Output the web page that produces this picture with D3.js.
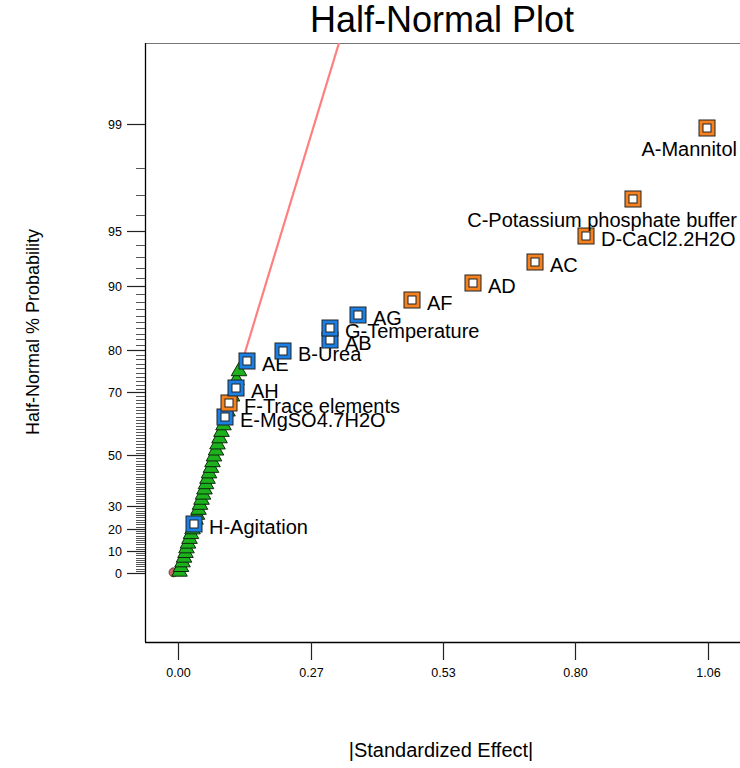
<!DOCTYPE html>
<html>
<head>
<meta charset="utf-8">
<script src="https://cdn.jsdelivr.net/npm/d3@7"></script>
<style>
  body { margin: 0; background: #fff; }
  text { font-family: Arial, "Liberation Sans", sans-serif; }
</style>
</head>
<body>
<div id="chart"></div>
<script>
// effects picked out on the plot (orange = positive, blue = negative)
const effectNames = ["A-Mannitol", "C-Potassium phosphate buffer", "D-CaCl2.2H2O", "AC", "AD", "AF",
  "AG", "G-Temperature", "AB", "B-Urea", "AE", "AH", "F-Trace elements", "E-MgSO4.7H2O", "H-Agitation"];
const effectValues = [1.058, 0.910, 0.816, 0.714, 0.590, 0.468, 0.360, 0.304, 0.304, 0.210, 0.138, 0.116, 0.102, 0.094, 0.032];
const effectPercents = [98.94, 96.81, 94.68, 92.55, 90.43, 88.30, 86.17, 84.04, 81.91, 79.79, 77.66, 71.28, 67.02, 62.77, 22.34];
const effectSigns = ["+", "+", "+", "+", "+", "+", "-", "-", "-", "-", "-", "-", "+", "-", "-"];
const labelsBelow = ["A-Mannitol", "C-Potassium phosphate buffer"];

// error estimates (green triangles)
const errorPercents = [1.06, 3.19, 5.32, 7.45, 9.57, 11.70, 13.83, 15.96, 18.09, 20.21, 24.47, 26.60, 28.72, 30.85,
  32.98, 35.11, 37.23, 39.36, 41.49, 43.62, 45.74, 47.87, 50.00, 52.13, 54.26, 56.38, 58.51, 60.64, 64.89, 69.15, 73.40, 75.53];
const errorValues = [0.003, 0.006, 0.009, 0.012, 0.015, 0.017, 0.020, 0.023, 0.026, 0.029, 0.035, 0.038, 0.041, 0.044,
  0.047, 0.050, 0.053, 0.056, 0.059, 0.062, 0.066, 0.069, 0.072, 0.076, 0.079, 0.083, 0.087, 0.091, 0.099, 0.108, 0.117, 0.122];

const originValues = [-0.009];
const originPercents = [0.3];

// reference line, in effect and normal score
const lineEffect = [0, 0.36];
const lineScore = [0, 3.40];

const xTickValues = [0, 0.265, 0.53, 0.795, 1.06];
const xTickLabels = ["0.00", "0.27", "0.53", "0.80", "1.06"];
const yTickPercents = [0, 10, 20, 30, 50, 70, 80, 90, 95, 99];

const W = 740, H = 768;
const plot = { left: 145, top: 43, right: 740, bottom: 642 };
const colors = { pos: "#F5821F", neg: "#1B7FE3", err: "#1DB11D", origin: "#C46A6A", line: "#FF7F7F", edge: "#222" };

// inverse normal cdf (Acklam)
function probit(p) {
  const a = [-39.6968302866538, 220.946098424521, -275.928510446969, 138.357751867269, -30.6647980661472, 2.50662827745924];
  const b = [-54.4760987982241, 161.585836858041, -155.698979859887, 66.8013118877197, -13.2806815528857];
  const c = [-0.00778489400243029, -0.322396458041136, -2.40075827716184, -2.54973253934373, 4.37466414146497, 2.93816398269878];
  const d = [0.00778469570904146, 0.32246712907004, 2.445134137143, 3.75440866190742];
  const lo = 0.02425;
  let q, r;
  if (p < lo) {
    q = Math.sqrt(-2 * Math.log(p));
    return (((((c[0]*q+c[1])*q+c[2])*q+c[3])*q+c[4])*q+c[5]) / ((((d[0]*q+d[1])*q+d[2])*q+d[3])*q+1);
  }
  if (p > 1 - lo) {
    q = Math.sqrt(-2 * Math.log(1 - p));
    return -(((((c[0]*q+c[1])*q+c[2])*q+c[3])*q+c[4])*q+c[5]) / ((((d[0]*q+d[1])*q+d[2])*q+d[3])*q+1);
  }
  q = p - 0.5; r = q * q;
  return (((((a[0]*r+a[1])*r+a[2])*r+a[3])*r+a[4])*r+a[5])*q / (((((b[0]*r+b[1])*r+b[2])*r+b[3])*r+b[4])*r+1);
}
// half-normal score of a percent
const halfScore = pct => pct <= 0 ? 0 : probit(0.5 + pct / 200);

const x = d3.scaleLinear().domain([-0.066, 1.122]).range([plot.left, plot.right - 1]);
const y = d3.scaleLinear().domain([-0.396, 3.041]).range([plot.bottom, plot.top]);
const yp = pct => y(halfScore(pct));

const svg = d3.select("#chart").append("svg").attr("width", W).attr("height", H);

svg.append("defs").append("clipPath").attr("id", "clip")
  .append("rect").attr("x", plot.left).attr("y", plot.top)
  .attr("width", plot.right - plot.left).attr("height", plot.bottom - plot.top);

// title
svg.append("text").attr("x", 442).attr("y", 32).attr("text-anchor", "middle")
  .attr("font-size", 36).text("Half-Normal Plot");

// frame
svg.append("line").attr("x1", plot.left).attr("x2", plot.right).attr("y1", plot.top + 0.5).attr("y2", plot.top + 0.5)
  .attr("stroke", "#777").attr("stroke-width", 1.2);
svg.append("line").attr("x1", plot.left + 0.5).attr("x2", plot.left + 0.5).attr("y1", plot.top).attr("y2", plot.bottom)
  .attr("stroke", "#000").attr("stroke-width", 1.3);
svg.append("line").attr("x1", plot.left).attr("x2", plot.right).attr("y1", plot.bottom + 0.5).attr("y2", plot.bottom + 0.5)
  .attr("stroke", "#000").attr("stroke-width", 1.3);

// y minor ticks every percent
const minor = d3.range(1, 99).filter(p => !yTickPercents.includes(p));
svg.append("g").selectAll("line").data(minor).enter().append("line")
  .attr("x1", 136).attr("x2", plot.left)
  .attr("y1", d => Math.round(yp(d)) + 0.5).attr("y2", d => Math.round(yp(d)) + 0.5)
  .attr("stroke", "#555").attr("stroke-width", 1);

const yTicks = svg.append("g").selectAll("g").data(yTickPercents).enter().append("g")
  .attr("transform", d => "translate(0," + (Math.round(yp(d)) + 0.5) + ")");
yTicks.append("line").attr("x1", 127).attr("x2", plot.left).attr("stroke", "#222").attr("stroke-width", 1.2);
yTicks.append("text").attr("x", 122).attr("dy", "0.36em").attr("text-anchor", "end")
  .attr("font-size", 12.5).text(d => d);

// x ticks
const xTicks = svg.append("g").selectAll("g").data(xTickValues).enter().append("g")
  .attr("transform", d => "translate(" + (Math.round(x(d)) + 0.5) + ",0)");
xTicks.append("line").attr("y1", plot.bottom).attr("y2", 660).attr("stroke", "#222").attr("stroke-width", 1.2);
xTicks.append("text").attr("y", 677).attr("text-anchor", "middle").attr("font-size", 12.5)
  .text((d, i) => xTickLabels[i]);

// axis titles
svg.append("text").attr("transform", "translate(39,332) rotate(-90)").attr("text-anchor", "middle")
  .attr("font-size", 18).text("Half-Normal % Probability");
svg.append("text").attr("x", 441).attr("y", 757).attr("text-anchor", "middle")
  .attr("font-size", 20).text("|Standardized Effect|");

const body = svg.append("g").attr("clip-path", "url(#clip)");

// reference line
body.append("line")
  .attr("x1", x(lineEffect[0])).attr("y1", y(lineScore[0]))
  .attr("x2", x(lineEffect[1])).attr("y2", y(lineScore[1]))
  .attr("stroke", colors.line).attr("stroke-width", 2.2);

// origin marker
body.selectAll(".origin").data(originValues).enter().append("circle")
  .attr("cx", d => x(d)).attr("cy", (d, i) => yp(originPercents[i])).attr("r", 4.5)
  .attr("fill", colors.origin).attr("stroke", "#5a2a2a").attr("stroke-width", 0.8);

// error triangles
const tri = d3.symbol().type(d3.symbolTriangle).size(105);
body.selectAll(".err").data(errorValues).enter().append("path")
  .attr("d", tri)
  .attr("transform", (d, i) => "translate(" + x(d) + "," + (yp(errorPercents[i]) + 1) + ")")
  .attr("fill", colors.err).attr("stroke", "#0c2a0c").attr("stroke-width", 1);

// effect squares, drawn from small to large
const effects = effectNames.map((n, i) => ({ name: n, v: effectValues[i], p: effectPercents[i], s: effectSigns[i] })).reverse();
const sq = svg.append("g").selectAll("g").data(effects).enter().append("g")
  .attr("transform", d => "translate(" + Math.round(x(d.v)) + "," + Math.round(yp(d.p)) + ")");
sq.append("rect").attr("x", -8).attr("y", -8).attr("width", 16).attr("height", 16)
  .attr("fill", d => d.s === "+" ? colors.pos : colors.neg).attr("stroke", colors.edge).attr("stroke-width", 1);
sq.append("rect").attr("x", -4).attr("y", -4).attr("width", 8).attr("height", 8)
  .attr("fill", "#fff").attr("stroke", colors.edge).attr("stroke-width", 1);

// labels
sq.append("text").attr("font-size", 20)
  .attr("text-anchor", d => labelsBelow.includes(d.name) ? "end" : "start")
  .attr("x", d => labelsBelow.includes(d.name) ? (plot.right - 3) - Math.round(x(d.v)) : 15)
  .attr("y", d => labelsBelow.includes(d.name) ? 28 : 10)
  .text(d => d.name);
</script>
</body>
</html>
